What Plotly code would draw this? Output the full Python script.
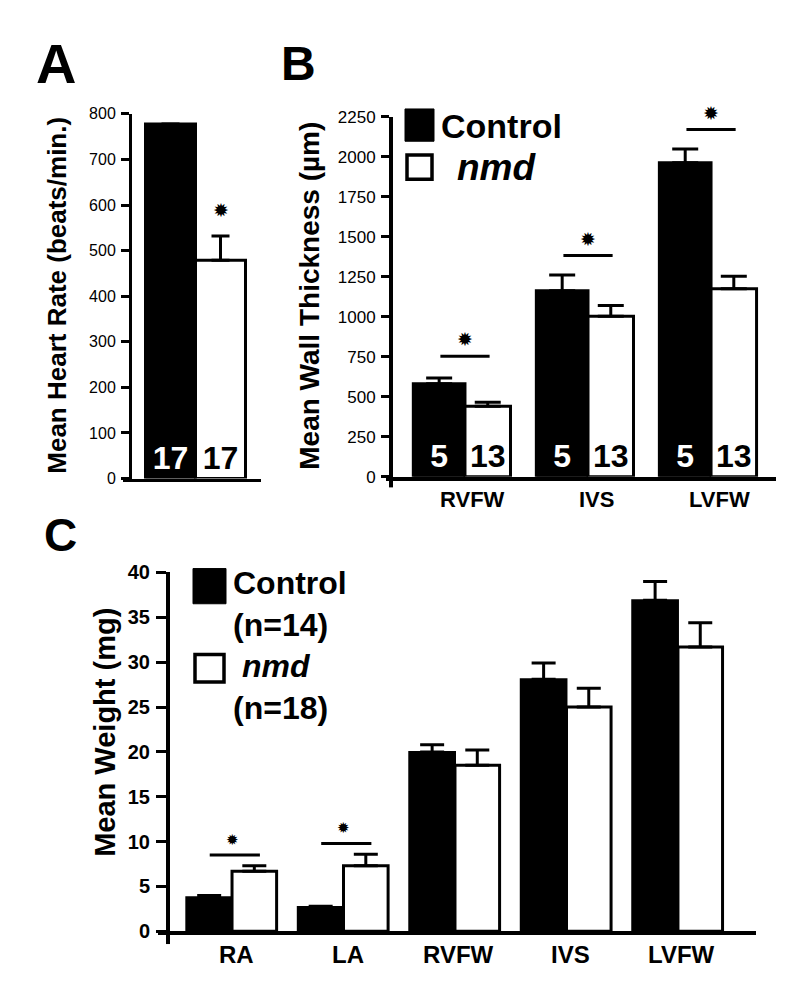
import plotly.graph_objects as go

# ---------------- data ----------------
A_groups = ["Control", "nmd"]
A_heart_rate = [778, 479]
A_heart_rate_err = [0, 53]
A_n = [17, 17]
A_ticks = [0, 100, 200, 300, 400, 500, 600, 700, 800]
A_star_level = 590

B_regions = ["RVFW", "IVS", "LVFW"]
B_control = [581, 1162, 1963]
B_control_err = [36, 98, 85]
B_nmd = [440, 1003, 1174]
B_nmd_err = [25, 67, 79]
B_n_control = [5, 5, 5]
B_n_nmd = [13, 13, 13]
B_sig_level = [752, 1382, 2170]
B_ticks = [0, 250, 500, 750, 1000, 1250, 1500, 1750, 2000, 2250]

C_regions = ["RA", "LA", "RVFW", "IVS", "LVFW"]
C_control = [3.8, 2.7, 20.0, 28.1, 36.9]
C_control_err = [0.2, 0.1, 0.8, 1.8, 2.1]
C_nmd = [6.7, 7.3, 18.5, 25.0, 31.7]
C_nmd_err = [0.6, 1.3, 1.7, 2.1, 2.7]
C_sig_regions = ["RA", "LA"]
C_sig_level = [8.5, 9.8]
C_ticks = [0, 5, 10, 15, 20, 25, 30, 35, 40]
C_n_control = 14
C_n_nmd = 18

# ---------------- helpers ----------------
W, H = 792, 993
FONT = "Liberation Sans, Arial, sans-serif"
STAR_FONT = "DejaVu Sans"


def px(x):
    return x / W


def py(y):
    return 1 - y / H


fig = go.Figure()

# ---------------- panel A ----------------
fig.add_trace(go.Bar(
    x=[A_groups[0]], y=[A_heart_rate[0]], xaxis="x", yaxis="y",
    offset=-0.5, width=1.0,
    marker=dict(color="black", line=dict(color="black", width=3)),
    error_y=dict(type="data", symmetric=False, array=[A_heart_rate_err[0]], arrayminus=[0],
                 color="black", thickness=3, width=9),
    text=[str(A_n[0])], textposition="inside", insidetextanchor="start", textangle=0,
    textfont=dict(family=FONT, size=32, color="white", weight="bold"),
))
fig.add_trace(go.Bar(
    x=[A_groups[1]], y=[A_heart_rate[1]], xaxis="x", yaxis="y",
    offset=-0.5, width=1.0,
    marker=dict(color="white", line=dict(color="black", width=3)),
    error_y=dict(type="data", symmetric=False, array=[A_heart_rate_err[1]], arrayminus=[0],
                 color="black", thickness=3, width=9),
    text=[str(A_n[1])], textposition="inside", insidetextanchor="start", textangle=0,
    textfont=dict(family=FONT, size=32, color="black", weight="bold"),
))

# ---------------- panel B ----------------
fig.add_trace(go.Bar(
    x=B_regions, y=B_control, xaxis="x2", yaxis="y2",
    offset=-0.42, width=0.42,
    marker=dict(color="black", line=dict(color="black", width=3)),
    error_y=dict(type="data", symmetric=False, array=B_control_err, arrayminus=[0] * 3,
                 color="black", thickness=3, width=13),
    text=[str(v) for v in B_n_control], textposition="inside", insidetextanchor="start", textangle=0,
    textfont=dict(family=FONT, size=32, color="white", weight="bold"),
))
fig.add_trace(go.Bar(
    x=B_regions, y=B_nmd, xaxis="x2", yaxis="y2",
    offset=0.0, width=0.37,
    marker=dict(color="white", line=dict(color="black", width=3)),
    error_y=dict(type="data", symmetric=False, array=B_nmd_err, arrayminus=[0] * 3,
                 color="black", thickness=3, width=13),
    text=[str(v) for v in B_n_nmd], textposition="inside", insidetextanchor="start", textangle=0,
    textfont=dict(family=FONT, size=32, color="black", weight="bold"),
))

# ---------------- panel C ----------------
fig.add_trace(go.Bar(
    x=C_regions, y=C_control, xaxis="x3", yaxis="y3",
    offset=-0.41, width=0.41,
    marker=dict(color="black", line=dict(color="black", width=2)),
    error_y=dict(type="data", symmetric=False, array=C_control_err, arrayminus=[0] * 5,
                 color="black", thickness=3, width=12),
))
fig.add_trace(go.Bar(
    x=C_regions, y=C_nmd, xaxis="x3", yaxis="y3",
    offset=0.0, width=0.40,
    marker=dict(color="white", line=dict(color="black", width=3)),
    error_y=dict(type="data", symmetric=False, array=C_nmd_err, arrayminus=[0] * 5,
                 color="black", thickness=3, width=12),
))

shapes = []
annotations = []

# significance lines and stars
annotations.append(dict(x=A_groups[1], y=A_star_level, xref="x", yref="y", text="✹",
                        showarrow=False, font=dict(family=STAR_FONT, size=19, color="black")))

for reg, lvl in zip(B_regions, B_sig_level):
    i = B_regions.index(reg)
    shapes.append(dict(type="line", xref="x2", yref="y2", x0=i - 0.2, x1=i + 0.2, y0=lvl, y1=lvl,
                       line=dict(color="black", width=3)))
    annotations.append(dict(x=i, y=lvl, xref="x2", yref="y2", text="✹", showarrow=False,
                            yshift=17, font=dict(family=STAR_FONT, size=19, color="black")))

for reg, lvl in zip(C_sig_regions, C_sig_level):
    i = C_regions.index(reg)
    shapes.append(dict(type="line", xref="x3", yref="y3", x0=i - 0.2, x1=i + 0.25, y0=lvl, y1=lvl,
                       line=dict(color="black", width=3)))
    annotations.append(dict(x=i, y=lvl, xref="x3", yref="y3", text="✹", showarrow=False,
                            yshift=15, font=dict(family=STAR_FONT, size=15, color="black")))

# x category labels (B and C)
for reg in B_regions:
    annotations.append(dict(x=B_regions.index(reg), y=py(491), xref="x2", yref="paper", text=reg,
                            showarrow=False, xanchor="center", yanchor="middle", xshift=8,
                            font=dict(family=FONT, size=22, color="black", weight="bold")))
for reg in C_regions:
    annotations.append(dict(x=C_regions.index(reg), y=py(957), xref="x3", yref="paper", text=reg,
                            showarrow=False, xanchor="center", yanchor="middle", xshift=4,
                            font=dict(family=FONT, size=24, color="black", weight="bold")))

# panel letters
for letter, (lx, ly), sz in [("A", (48, 45), 56), ("B", (290, 45), 48), ("C", (52, 528), 46)]:
    annotations.append(dict(x=px(lx), y=py(ly), xref="paper", yref="paper", text=letter,
                            showarrow=False, xanchor="center", yanchor="middle",
                            font=dict(family=FONT, size=sz, color="black", weight="bold")))

# y-axis titles
for txt, (tx, ty), sz in [("Mean Heart Rate (beats/min.)", (49, 283), 26),
                          ("Mean Wall Thickness (µm)", (302, 283), 28),
                          ("Mean Weight (mg)", (97, 730), 29)]:
    annotations.append(dict(x=px(tx), y=py(ty), xref="paper", yref="paper", text=txt,
                            textangle=-90, showarrow=False, xanchor="center", yanchor="middle",
                            font=dict(family=FONT, size=sz, color="black", weight="bold")))

# legend B
shapes.append(dict(type="rect", xref="paper", yref="paper", x0=px(397), x1=px(426), y0=py(92), y1=py(125),
                   fillcolor="black", line=dict(color="black", width=1)))
shapes.append(dict(type="rect", xref="paper", yref="paper", x0=px(399), x1=px(424), y0=py(139), y1=py(164),
                   fillcolor="white", line=dict(color="black", width=3.5)))
annotations.append(dict(x=px(431), y=py(109), xref="paper", yref="paper", text="Control",
                        showarrow=False, xanchor="left", yanchor="middle",
                        font=dict(family=FONT, size=34, color="black", weight="bold")))
annotations.append(dict(x=px(447), y=py(152), xref="paper", yref="paper", text="nmd",
                        showarrow=False, xanchor="left", yanchor="middle",
                        font=dict(family=FONT, size=37, color="black", weight="bold", style="italic")))

# legend C
shapes.append(dict(type="rect", xref="paper", yref="paper", x0=px(185), x1=px(218), y0=py(562), y1=py(598),
                   fillcolor="black", line=dict(color="black", width=1)))
shapes.append(dict(type="rect", xref="paper", yref="paper", x0=px(187), x1=px(216), y0=py(650), y1=py(678),
                   fillcolor="white", line=dict(color="black", width=3.5)))
annotations.append(dict(x=px(223), y=py(598), xref="paper", yref="paper",
                        text=f"Control<br>(n={C_n_control})", align="left",
                        showarrow=False, xanchor="left", yanchor="middle",
                        font=dict(family=FONT, size=32, color="black", weight="bold")))
annotations.append(dict(x=px(223), y=py(683), xref="paper", yref="paper",
                        text=f"&nbsp;<i>nmd</i><br>(n={C_n_nmd})", align="left",
                        showarrow=False, xanchor="left", yanchor="middle",
                        font=dict(family=FONT, size=32, color="black", weight="bold")))

# y-axis extensions below x axes
shapes.append(dict(type="line", xref="paper", yref="paper", x0=px(383), x1=px(383), y0=py(468), y1=py(479),
                   line=dict(color="black", width=4)))
shapes.append(dict(type="line", xref="paper", yref="paper", x0=px(160), x1=px(160), y0=py(933), y1=py(946),
                   line=dict(color="black", width=4)))


# ---------------- axes ----------------
def xaxis(domain_px, rng, anchor, lw):
    return dict(domain=[px(domain_px[0]), px(domain_px[1])], range=rng, anchor=anchor,
                showline=True, linecolor="black", linewidth=lw, ticks="", showgrid=False,
                zeroline=False, showticklabels=False, fixedrange=True)


def yaxis(domain_px, rng, pos_px, tickvals, lw, tsize, bold, ticklen=8):
    return dict(domain=[py(domain_px[1]), py(domain_px[0])], range=rng, anchor="free",
                position=px(pos_px), showline=True, linecolor="black", linewidth=lw,
                ticks="outside", ticklen=ticklen, tickwidth=3, tickcolor="black",
                tickvals=tickvals, showgrid=False, zeroline=False,
                tickfont=dict(family=FONT, size=tsize, color="black",
                              weight="bold" if bold else "normal"),
                ticklabelstandoff=2, fixedrange=True)


fig.update_layout(
    width=W, height=H, margin=dict(l=0, r=0, t=0, b=0),
    paper_bgcolor="white", plot_bgcolor="rgba(0,0,0,0)",
    showlegend=False, barmode="overlay",
    xaxis=xaxis((115, 253), [-0.95, 1.81], "y", 3),
    yaxis=yaxis((97, 470), [0, 800], 122, A_ticks, 3, 16, False),
    xaxis2=xaxis((378, 768), [-0.642, 2.528], "y2", 4),
    yaxis2=yaxis((100, 468), [0, 2250], 383, B_ticks, 4, 17, False),
    xaxis3=xaxis((150, 748), [-0.664, 4.70], "y3", 4),
    yaxis3=yaxis((566, 933), [0, 40], 160, C_ticks, 4, 20, True, ticklen=10),
    shapes=shapes, annotations=annotations,
)

fig.write_html("out.html")
